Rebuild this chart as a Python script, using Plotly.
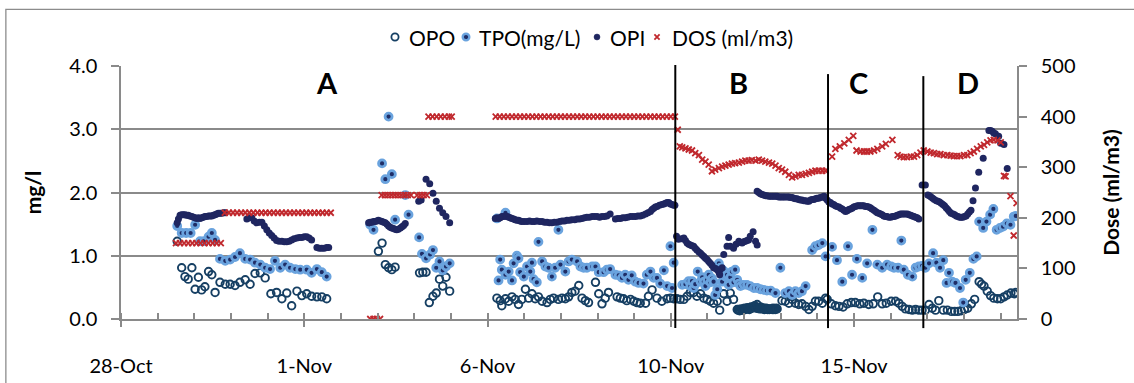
import pandas as pd
import plotly.graph_objects as go

# ---------------- data (time = days after 28-Oct 00:00) ----------------
BASE = pd.Timestamp("2012-10-28")

opo_t = [1.38,1.49,1.57,1.65,1.74,1.82,1.90,1.98,2.06,2.15,2.23,2.31,2.43,2.56,2.68,2.80,2.92,3.05,3.17,3.29,3.42,3.54,3.68,3.82,3.95,4.07,4.19,4.32,4.44,4.56,4.68,4.81,4.93,5.05,
         6.32,6.41,6.49,6.57,6.65,6.73,7.33,7.41,7.49,7.57,7.66,7.74,7.82,7.90,7.98,8.07,
         9.23,9.31,9.35,9.44,9.52,9.60,9.68,9.76,9.84,9.93,10.01,10.09,10.17,10.25,10.34,10.46,10.54,10.62,10.74,10.83,10.91,10.99,11.07,11.15,11.24,11.32,11.40,11.48,11.65,11.73,11.81,11.89,11.97,12.18,12.26,12.34,12.42,12.51,12.59,12.67,12.75,12.88,12.95,13.04,13.16,13.28,13.41,13.49,13.57,
         13.65,13.73,13.82,13.90,13.98,14.06,14.14,14.23,14.31,14.39,14.47,14.55,14.64,14.70,14.80,14.88,14.96,15.04,15.13,
         15.15,15.17,15.19,15.21,15.23,15.25,15.27,15.29,15.31,15.33,15.35,15.37,15.39,15.41,15.43,15.45,15.47,15.49,15.51,15.54,15.56,15.58,15.60,15.62,15.64,15.66,15.68,15.70,15.72,15.74,15.76,15.78,15.80,15.82,15.84,15.86,15.88,15.90,15.92,15.95,15.97,15.99,16.01,16.03,16.05,16.07,16.09,16.11,
         16.23,16.31,16.40,16.48,16.56,16.64,16.72,16.81,16.89,16.97,17.05,17.13,17.22,17.30,
         17.34,17.44,17.54,17.63,17.73,17.83,17.93,18.03,18.14,18.24,18.36,18.47,18.58,18.69,18.79,18.91,19.02,19.10,19.18,19.26,19.35,19.43,19.51,19.59,19.67,19.75,19.84,19.92,20.00,20.08,20.19,20.29,20.39,20.47,20.55,20.63,20.71,20.79,20.88,20.96,21.07,21.13,21.19,21.27,21.35,21.43,21.52,21.60,21.68,21.76,21.85,21.93,21.97]
opo_v = [1.23,0.81,0.67,0.63,0.81,0.47,0.66,0.46,0.51,0.75,0.70,0.42,0.58,0.55,0.55,0.53,0.58,0.62,0.55,0.72,0.73,0.65,0.40,0.42,0.32,0.41,0.21,0.44,0.37,0.40,0.36,0.35,0.35,0.32,
         1.07,1.20,0.86,0.81,0.78,0.82,0.73,0.74,0.74,0.26,0.36,0.41,0.63,0.52,0.66,0.44,
         0.33,0.29,0.21,0.32,0.28,0.35,0.31,0.23,0.31,0.47,0.33,0.40,0.32,0.35,0.28,0.26,0.31,0.33,0.31,0.33,0.32,0.35,0.42,0.44,0.53,0.33,0.29,0.26,0.58,0.40,0.24,0.33,0.42,0.35,0.33,0.32,0.29,0.31,0.28,0.26,0.25,0.25,0.36,0.46,0.33,0.28,0.32,0.33,0.32,
         0.32,0.31,0.31,0.36,0.42,0.42,0.36,0.40,0.33,0.31,0.28,0.25,0.28,0.14,0.40,0.28,0.41,0.31,0.15,
         0.14,0.15,0.13,0.14,0.16,0.15,0.14,0.16,0.17,0.15,0.16,0.17,0.18,0.16,0.15,0.17,0.19,0.17,0.18,0.20,0.21,0.19,0.17,0.23,0.18,0.17,0.16,0.19,0.18,0.16,0.17,0.17,0.15,0.16,0.17,0.16,0.15,0.16,0.15,0.16,0.16,0.15,0.17,0.15,0.16,0.15,0.17,0.16,
         0.29,0.28,0.25,0.31,0.25,0.23,0.24,0.20,0.15,0.20,0.28,0.28,0.25,0.33,
         0.31,0.24,0.21,0.20,0.19,0.24,0.26,0.26,0.24,0.25,0.23,0.24,0.35,0.24,0.25,0.28,0.28,0.25,0.20,0.16,0.15,0.14,0.15,0.14,0.14,0.14,0.23,0.17,0.14,0.29,0.14,0.14,0.12,0.12,0.12,0.13,0.15,0.17,0.24,0.31,0.59,0.55,0.52,0.44,0.37,0.33,0.32,0.32,0.35,0.38,0.41,0.40,0.42]

tpo_t = [1.38,1.49,1.60,1.71,1.82,1.94,2.04,2.15,2.23,2.31,2.43,2.56,2.68,2.80,2.92,3.05,3.17,3.29,3.42,3.54,3.66,3.78,3.91,4.03,4.15,4.28,4.40,4.56,4.68,4.81,4.93,5.05,
         6.12,6.20,6.41,6.49,6.57,6.65,6.73,6.98,7.06,7.32,7.39,7.49,7.59,7.66,7.74,7.82,7.90,7.98,8.07,
         9.23,9.44,9.27,9.31,9.35,9.44,9.52,9.60,9.64,9.72,9.76,9.80,9.89,9.97,10.05,10.09,10.13,10.21,10.25,10.34,10.42,10.50,10.58,10.66,10.74,10.79,10.91,10.99,11.07,11.20,11.28,11.36,11.44,11.57,11.65,11.73,11.85,11.93,12.01,12.14,12.22,12.30,12.38,12.46,12.54,12.63,12.71,12.83,12.91,13.00,13.08,13.16,13.24,13.33,13.41,13.49,13.53,13.57,
         13.78,13.86,13.94,13.98,14.02,14.06,14.10,14.16,14.23,14.27,14.31,14.35,14.39,14.43,14.47,14.51,14.55,14.59,14.64,14.68,14.72,14.76,14.80,14.84,14.88,14.92,14.96,15.00,15.04,15.08,15.13,15.17,15.21,15.29,15.37,15.45,15.54,15.62,15.70,15.78,15.86,15.95,16.07,16.19,16.31,16.40,16.48,16.56,16.64,16.72,16.81,16.97,17.05,17.13,17.22,17.30,
         17.46,17.58,17.71,17.85,17.95,18.07,18.20,18.32,18.45,18.57,18.69,18.81,18.91,18.98,19.08,19.16,19.22,19.32,19.43,19.51,19.59,19.67,19.75,19.84,19.94,20.02,20.11,20.19,20.27,20.33,20.41,20.49,20.60,20.68,20.74,20.84,20.93,21.01,21.07,21.17,21.25,21.34,21.42,21.50,21.58,21.66,21.75,21.84,21.92,21.97]
tpo_v = [1.47,1.36,1.36,1.36,1.49,1.23,1.23,1.30,1.36,1.25,0.95,0.92,0.94,0.98,1.04,0.95,0.94,0.89,0.86,0.81,0.79,0.92,0.81,0.86,0.81,0.79,0.78,0.78,0.73,0.79,0.74,0.67,
         1.49,1.41,2.46,2.21,3.20,2.29,1.57,1.96,1.65,1.29,1.03,0.96,1.02,1.09,0.81,0.91,0.77,0.83,0.88,
         1.59,1.68,0.61,0.94,0.78,0.70,0.75,0.61,0.88,1.00,0.96,0.74,0.67,0.83,0.75,0.89,0.63,0.58,1.22,0.91,0.83,0.81,0.67,0.81,1.41,0.86,0.75,0.91,0.94,0.91,0.83,0.81,0.81,0.83,0.83,0.74,0.74,0.78,0.79,0.70,0.69,0.65,0.70,0.62,0.69,0.59,0.57,0.56,0.70,0.75,0.65,0.65,0.56,0.77,0.52,1.15,0.49,0.89,
         0.54,0.55,0.60,0.52,0.60,0.49,0.55,0.75,0.59,0.66,0.59,0.52,0.62,0.70,0.58,0.64,0.59,0.38,0.47,0.88,0.81,0.59,0.76,0.67,0.70,0.54,0.66,0.75,0.58,0.78,0.62,0.56,0.52,0.54,0.54,0.52,0.49,0.49,0.47,0.46,0.45,0.45,0.41,0.81,0.41,0.44,0.38,0.44,0.41,0.44,0.52,1.09,1.15,1.17,1.20,0.99,
         1.14,0.93,0.59,1.15,0.70,0.95,0.65,0.88,1.41,0.86,0.81,0.86,0.83,0.81,0.81,1.24,0.78,0.70,0.67,0.81,0.83,0.84,0.81,0.88,1.04,0.89,0.81,0.93,0.57,0.73,0.59,0.57,0.49,0.26,0.62,0.73,0.95,0.99,1.54,1.44,1.54,1.65,1.74,1.41,1.44,1.46,1.51,1.49,1.62,1.63]

opi_t = [1.38,1.41,1.45,1.49,1.53,1.57,1.61,1.65,1.69,1.74,1.78,1.82,1.86,1.90,1.94,1.98,2.02,2.06,2.10,2.15,2.19,2.23,2.27,2.31,2.35,2.39,2.43,2.47,2.52,2.56,
         3.09,3.15,3.21,3.27,3.33,3.40,3.46,3.52,3.58,3.64,3.70,3.76,3.82,3.88,3.95,4.01,4.07,4.13,4.19,4.25,4.32,4.38,4.44,4.50,4.56,4.62,4.68,4.81,4.87,4.93,4.99,5.05,5.10,
         6.08,6.12,6.16,6.20,6.24,6.28,6.32,6.37,6.41,6.45,6.49,6.53,6.57,6.61,6.65,6.69,6.73,6.77,6.81,6.86,6.90,6.94,6.98,7.31,7.37,7.49,7.58,7.66,7.74,7.82,7.90,7.98,8.07,
         9.19,9.23,9.27,9.31,9.35,9.40,9.44,9.48,9.52,9.56,9.60,9.64,9.68,9.72,9.76,9.80,9.84,9.90,9.97,10.03,10.09,10.15,10.21,10.28,10.34,10.40,10.46,10.52,10.58,10.64,10.70,10.77,10.83,10.89,10.95,11.01,11.07,11.14,11.20,11.26,11.32,11.38,11.44,11.50,11.57,11.63,11.69,11.75,11.81,11.87,11.93,12.01,12.14,12.20,12.26,12.32,12.38,12.44,12.51,12.57,12.63,12.69,12.75,12.81,12.88,12.94,13.00,13.04,13.08,13.12,13.16,13.22,13.28,13.33,13.37,13.41,13.45,13.49,13.53,13.57,13.60,
         13.64,13.69,13.76,13.82,13.86,13.90,13.94,13.98,14.02,14.06,14.10,14.14,14.19,14.23,14.27,14.31,14.35,14.39,14.43,14.47,14.51,14.55,14.60,14.64,14.68,14.70,14.76,14.80,14.88,14.92,14.96,15.04,15.10,15.17,15.21,15.25,15.29,15.33,15.37,15.41,15.45,15.52,15.58,15.62,
         15.62,15.66,15.70,15.74,15.78,15.82,15.86,15.91,15.95,15.99,16.03,16.07,16.11,16.15,16.19,16.23,16.27,16.31,16.36,16.40,16.44,16.48,16.52,16.56,16.60,16.64,16.68,16.72,16.77,16.81,16.85,16.89,16.93,16.97,17.01,17.05,17.09,17.13,17.17,17.22,17.26,17.30,17.34,17.38,
         17.42,17.46,17.50,17.54,17.58,17.63,17.67,17.71,17.75,17.79,17.83,17.87,17.91,17.95,17.99,18.03,18.08,18.12,18.16,18.20,18.24,18.28,18.32,18.36,18.40,18.44,18.49,18.53,18.57,18.61,18.65,18.69,18.73,18.77,18.81,18.85,18.90,18.94,18.98,19.02,19.06,19.10,19.14,19.18,19.22,19.26,19.31,19.35,19.39,19.43,19.47,19.51,19.55,19.59,19.67,19.75,19.81,19.85,19.89,19.93,19.97,20.02,20.06,20.10,20.14,20.18,20.22,20.26,20.30,20.34,20.38,20.43,20.47,20.51,20.55,20.59,20.63,20.67,20.71,20.75,20.79,20.83,20.87,20.92,20.98,21.06,21.17,21.31,21.35,21.39,21.43,21.47,21.55,21.60,21.68,21.76]
opi_v = [1.52,1.58,1.64,1.65,1.65,1.65,1.64,1.64,1.63,1.62,1.61,1.60,1.59,1.60,1.59,1.60,1.61,1.62,1.62,1.63,1.63,1.63,1.64,1.65,1.66,1.67,1.67,1.67,1.68,1.68,
         1.58,1.60,1.60,1.55,1.52,1.53,1.53,1.47,1.41,1.36,1.32,1.28,1.24,1.23,1.23,1.22,1.22,1.23,1.25,1.27,1.28,1.29,1.29,1.30,1.30,1.28,1.25,1.13,1.12,1.12,1.12,1.13,1.13,
         1.52,1.53,1.53,1.54,1.54,1.55,1.56,1.55,1.54,1.53,1.52,1.50,1.47,1.45,1.44,1.43,1.42,1.41,1.42,1.44,1.46,1.48,1.51,1.86,1.88,2.21,2.14,1.99,1.86,1.75,1.68,1.62,1.52,
         1.59,1.60,1.59,1.60,1.62,1.62,1.63,1.62,1.61,1.60,1.59,1.58,1.57,1.56,1.56,1.55,1.54,1.54,1.54,1.55,1.54,1.54,1.55,1.54,1.54,1.53,1.53,1.52,1.52,1.53,1.53,1.54,1.55,1.55,1.56,1.56,1.57,1.57,1.58,1.58,1.59,1.60,1.61,1.61,1.62,1.62,1.62,1.61,1.62,1.62,1.63,1.66,1.58,1.59,1.59,1.60,1.60,1.61,1.62,1.62,1.62,1.63,1.63,1.64,1.66,1.68,1.70,1.73,1.75,1.77,1.78,1.80,1.81,1.82,1.83,1.84,1.84,1.82,1.81,1.80,1.80,
         1.31,1.26,1.27,1.28,1.24,1.20,1.18,1.17,1.16,1.15,1.12,1.09,1.06,1.04,1.01,0.99,0.96,0.94,0.91,0.88,0.85,0.81,0.80,0.78,0.74,0.70,0.81,1.02,1.15,1.29,1.15,1.12,1.18,1.23,1.21,1.20,1.22,1.23,1.24,1.25,1.31,1.38,1.23,1.17,
         2.02,2.00,1.98,1.97,1.96,1.95,1.95,1.94,1.94,1.94,1.94,1.94,1.94,1.93,1.93,1.93,1.93,1.93,1.93,1.93,1.92,1.92,1.91,1.90,1.90,1.89,1.88,1.88,1.87,1.87,1.86,1.86,1.88,1.89,1.89,1.90,1.91,1.91,1.92,1.93,1.94,1.91,1.88,1.85,
         1.84,1.82,1.81,1.79,1.78,1.77,1.75,1.74,1.72,1.70,1.71,1.73,1.74,1.75,1.77,1.78,1.79,1.79,1.79,1.79,1.79,1.78,1.78,1.77,1.76,1.74,1.72,1.70,1.68,1.67,1.66,1.65,1.63,1.62,1.62,1.61,1.61,1.62,1.62,1.63,1.64,1.65,1.66,1.66,1.66,1.66,1.66,1.65,1.64,1.63,1.62,1.61,1.60,1.58,2.12,2.12,1.96,1.95,1.93,1.91,1.89,1.87,1.86,1.85,1.83,1.81,1.79,1.76,1.73,1.70,1.67,1.66,1.65,1.63,1.62,1.61,1.61,1.61,1.62,1.63,1.66,1.69,1.72,1.87,2.07,2.32,2.54,2.98,2.98,2.97,2.94,2.93,2.89,2.78,2.76,2.38]

dos_t = [1.35,1.45,1.55,1.65,1.75,1.85,1.95,2.05,2.15,2.25,2.35,2.45,
         2.55,2.65,2.75,2.85,2.95,3.05,3.15,3.25,3.35,3.45,3.55,3.65,3.75,3.85,3.95,4.05,4.15,4.25,4.35,4.45,4.55,4.65,4.75,4.85,4.95,5.05,5.15,
         6.12,6.20,6.28,6.36,
         6.40,6.48,6.56,6.64,6.72,6.80,6.88,6.96,7.04,7.12,7.27,7.35,7.43,7.51,
         7.55,7.65,7.75,7.85,7.95,8.05,8.12,
         9.20,9.30,9.40,9.50,9.60,9.70,9.80,9.90,10.00,10.10,10.20,10.30,10.40,10.50,10.60,10.70,10.80,10.90,11.00,11.10,11.20,11.30,11.40,11.50,11.60,11.70,11.80,11.90,12.00,12.10,12.20,12.30,12.40,12.50,12.60,12.70,12.80,12.90,13.00,13.10,13.20,13.30,13.40,13.50,13.60,
         13.67,13.72,13.78,13.86,13.94,14.02,14.10,14.19,14.27,14.35,14.43,14.51,14.59,14.68,14.76,14.84,14.92,15.00,15.08,15.17,15.25,15.33,15.41,15.49,15.58,15.66,15.74,15.82,15.91,15.99,16.07,16.15,16.23,16.31,16.40,16.48,16.56,16.64,16.72,16.81,16.89,16.97,17.05,17.13,17.22,17.30,
         17.46,17.54,17.65,17.76,17.87,17.98,18.06,18.16,18.24,18.32,18.40,18.49,18.57,18.69,18.78,18.94,19.07,19.14,19.22,19.30,19.39,19.47,19.55,19.63,19.71,19.80,19.88,19.96,20.04,20.12,20.20,20.29,20.37,20.45,20.53,20.61,20.70,20.78,20.86,20.94,21.02,21.11,21.19,21.27,21.35,21.43,21.52,21.60,21.68,21.72,21.84,21.92,21.99]
dos_v = [150,150,150,150,150,150,150,150,150,150,150,150,
         210,210,210,210,210,210,210,210,210,210,210,210,210,210,210,210,210,210,210,210,210,210,210,210,210,210,210,
         0,0,0,0,
         245,245,245,245,245,245,245,245,245,245,245,245,245,245,
         400,400,400,400,400,400,400,
         400,400,400,400,400,400,400,400,400,400,400,400,400,400,400,400,400,400,400,400,400,400,400,400,400,400,400,400,400,400,400,400,400,400,400,400,400,400,400,400,400,400,400,400,400,
         374,341,339,337,335,333,328,324,315,311,305,292,295,298,301,303,305,307,308,309,311,313,313,314,313,315,313,311,309,307,303,298,295,291,285,280,282,285,285,287,289,291,293,293,293,293,
         321,336,341,347,354,362,333,331,331,331,331,333,336,341,346,354,324,321,320,320,321,321,324,329,333,331,329,328,326,326,324,324,323,322,322,322,324,324,328,331,336,341,344,349,353,354,353,349,283,282,243,165,229]

tick_days = [0, 4.5, 9, 13.5, 18]
tick_text = ["28-Oct", "1-Nov", "6-Nov", "10-Nov", "15-Nov"]
x_range_days = [0, 22]

phase_line_days = [13.61, 17.36, 19.70]
phase_line_tops = [1.004, 0.968, 0.960]
phase_names = ["A", "B", "C", "D"]
phase_label_days = [5.06, 15.16, 18.11, 20.79]

series_names = ["OPO", "TPO(mg/L)", "OPI", "DOS (ml/m3)"]


def to_dt(days):
    return [BASE + pd.Timedelta(days=float(d)) for d in days]


FONT = "Lato, 'Open Sans', sans-serif"
GRID = "#8a8a8a"
C_OPO = "#163f63"
C_TPO_IN, C_TPO_RING = "#1f2d66", "#6aa3de"
C_OPI = "#1f2660"
C_DOS = "#c0282d"

fig = go.Figure()
fig.add_trace(go.Scatter(
    x=to_dt(opo_t), y=opo_v, mode="markers", name=series_names[0],
    marker=dict(symbol="circle-open", size=7.5, color=C_OPO, line=dict(width=1.9, color=C_OPO)),
))
fig.add_trace(go.Scatter(
    x=to_dt(tpo_t), y=tpo_v, mode="markers", name=series_names[1],
    marker=dict(symbol="circle", size=7, color=C_TPO_IN, line=dict(width=2.8, color=C_TPO_RING)),
))
fig.add_trace(go.Scatter(
    x=to_dt(opi_t), y=opi_v, mode="markers", name=series_names[2],
    marker=dict(symbol="circle", size=7, color=C_OPI, line=dict(width=0)),
))
fig.add_trace(go.Scatter(
    x=to_dt(dos_t), y=dos_v, mode="markers", name=series_names[3], yaxis="y2",
    marker=dict(symbol="x-thin", size=6, color=C_DOS, line=dict(width=1.8, color=C_DOS)),
))

shapes = []
for d, top in zip(phase_line_days, phase_line_tops):
    dt = BASE + pd.Timedelta(days=d)
    shapes.append(dict(type="line", xref="x", yref="paper", x0=dt, x1=dt, y0=-0.036, y1=top,
                       line=dict(color="black", width=2)))
# outer chart border (only top/left visible in the frame)
shapes.append(dict(type="rect", xref="paper", yref="paper", x0=-0.1285, x1=1.5, y0=-1, y1=1.224,
                   line=dict(color="#8c8c8c", width=1.3), layer="below"))

# ---- legend drawn as layout items (compact Excel-like spacing) ----
PW, PH, L, T = 896, 253, 121, 66
def px2paper_x(px):
    return (px - L) / PW
LEG_Y = (PH + T - 37) / PH
leg_sym_px = [395, 466, 597, 657]
leg_txt_px = [408, 478, 609, 671]
common = dict(xref="paper", yref="paper", xsizemode="pixel", ysizemode="pixel", yanchor=LEG_Y)
shapes.append(dict(type="circle", xanchor=px2paper_x(leg_sym_px[0]), x0=-3.6, x1=3.6, y0=-3.6, y1=3.6,
                   line=dict(color=C_OPO, width=1.8), fillcolor="white", **common))
shapes.append(dict(type="circle", xanchor=px2paper_x(leg_sym_px[1]), x0=-3.3, x1=3.3, y0=-3.3, y1=3.3,
                   line=dict(color=C_TPO_RING, width=2.4), fillcolor=C_TPO_IN, **common))
shapes.append(dict(type="circle", xanchor=px2paper_x(leg_sym_px[2]), x0=-3, x1=3, y0=-3, y1=3,
                   line=dict(color=C_OPI, width=0.5), fillcolor=C_OPI, **common))
shapes.append(dict(type="path", xanchor=px2paper_x(leg_sym_px[3]), path="M-2.6,-2.6L2.6,2.6M-2.6,2.6L2.6,-2.6",
                   line=dict(color=C_DOS, width=1.8), **common))

annotations = []
for name, px in zip(series_names, leg_txt_px):
    annotations.append(dict(x=px2paper_x(px), y=LEG_Y, xref="paper", yref="paper", text=name,
                            showarrow=False, xanchor="left", yanchor="middle", borderpad=0,
                            font=dict(family=FONT, size=21, color="black")))
for name, d in zip(phase_names, phase_label_days):
    annotations.append(dict(x=BASE + pd.Timedelta(days=d), y=0.933, xref="x", yref="paper",
                            text=f"<b>{name}</b>", showarrow=False,
                            font=dict(family=FONT, size=29, color="black"),
                            xanchor="center", yanchor="middle"))

fig.update_layout(
    width=1134, height=383,
    margin=dict(l=L, r=117, t=T, b=64, autoexpand=False),
    paper_bgcolor="white", plot_bgcolor="white",
    font=dict(family=FONT, size=20, color="black"),
    showlegend=False,
    xaxis=dict(
        type="date", automargin=False,
        range=to_dt(x_range_days),
        tickmode="array", tickvals=to_dt(tick_days), ticktext=tick_text,
        ticks="outside", ticklen=6, tickwidth=1.5, tickcolor=GRID,
        minor=dict(ticks="inside", ticklen=6, tickwidth=1.5, tickcolor=GRID,
                   dtick=0.9 * 86400000, tick0=BASE, showgrid=False),
        showline=True, linecolor=GRID, linewidth=1.5,
        showgrid=False, zeroline=False,
        ticklabelstandoff=22,
        tickfont=dict(family=FONT, size=20),
    ),
    yaxis=dict(
        range=[0, 4], dtick=1, tickformat=".1f", automargin=False,
        ticks="outside", ticklen=8, tickwidth=1.5, tickcolor=GRID,
        showline=True, linecolor=GRID, linewidth=1.5,
        showgrid=True, gridcolor=GRID, gridwidth=1.5, zeroline=False,
        ticklabelstandoff=10,
        title=dict(text="<b>mg/l</b>", font=dict(family=FONT, size=21), standoff=22),
        tickfont=dict(family=FONT, size=20),
    ),
    yaxis2=dict(
        range=[0, 500], dtick=100, overlaying="y", side="right", automargin=False,
        ticks="outside", ticklen=8, tickwidth=1.5, tickcolor=GRID,
        showline=True, linecolor=GRID, linewidth=1.5,
        showgrid=False, zeroline=False,
        ticklabelstandoff=10,
        title=dict(text="<b>Dose (ml/m3)</b>", font=dict(family=FONT, size=21), standoff=30),
        tickfont=dict(family=FONT, size=20),
    ),
    shapes=shapes,
    annotations=annotations,
)

fig.write_html("out.html")
